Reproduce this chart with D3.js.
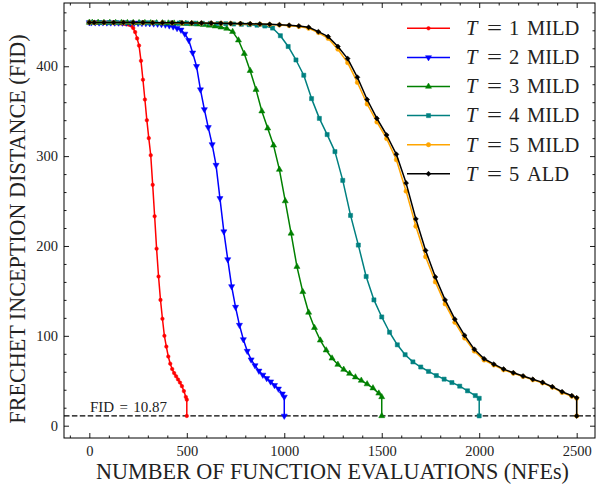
<!DOCTYPE html>
<html>
<head>
<meta charset="utf-8">
<script src="https://cdn.jsdelivr.net/npm/d3@7"></script>
<style>
  body { margin: 0; background: #fff; }
  svg { display: block; }
</style>
</head>
<body>
<div id="chart"></div>
<script>
// noise levels at which FID was measured (NFE = T * level)
var levels = [0, 5, 15, 25, 35, 45, 55, 65, 75, 85, 95, 105, 115, 125, 135, 145, 155, 165, 175, 185,
  195, 205, 215, 225, 235, 245, 255, 265, 275, 285, 295, 305, 315, 325, 335, 345, 355, 365, 375, 385,
  395, 405, 415, 425, 435, 445, 455, 465, 475, 485, 495, 500];

var fidT1 = [448.7, 448.6, 448.6, 448.5, 448.6, 448.5, 448.5, 448.4, 448.4, 448.3,
  448.3, 448.2, 448.2, 448.1, 448.0, 447.9, 447.8, 447.6, 447.4, 447.1,
  446.8, 446.2, 445.3, 442.5, 438, 431, 423, 406, 385, 363,
  340, 320, 301, 268, 233, 197, 166, 140, 119, 100,
  88, 77, 69, 63, 58.5, 55, 51.5, 48, 44, 38.5,
  32, 29];
var fidT2 = [448.7, 448.6, 448.6, 448.5, 448.6, 448.5, 448.5, 448.4, 448.4, 448.3,
  448.3, 448.2, 448.1, 448.0, 447.9, 447.8, 447.6, 447.4, 447.1, 446.7,
  446.1, 445.2, 444.0, 442.3, 440.5, 436, 429, 415, 400, 374,
  352, 332, 313, 290, 253, 216, 185, 155, 132, 112,
  96, 83, 73.5, 67, 61, 56.5, 52.7, 49, 45, 41,
  35.5, 32];
var fidT3 = [448.7, 448.6, 448.6, 448.5, 448.6, 448.5, 448.5, 448.4, 448.4, 448.3,
  448.3, 448.2, 448.1, 448.0, 447.9, 447.8, 447.6, 447.4, 447.1, 446.7,
  446.2, 445.5, 444.6, 443.4, 442, 438.5, 429, 414, 395, 374,
  350, 331, 312, 285, 250, 214, 177, 149, 126, 109,
  95, 84, 75, 68, 62.5, 58, 54, 50.3, 46.3, 41.8,
  36, 32];
var fidT4 = [448.7, 448.6, 448.6, 448.5, 448.6, 448.5, 448.5, 448.4, 448.4, 448.3,
  448.3, 448.2, 448.1, 448.0, 447.9, 447.8, 447.7, 447.5, 447.3, 447.0,
  446.7, 446.3, 445.7, 444.8, 442.5, 434, 422, 407, 390, 364,
  342, 324, 305, 273, 234, 201, 166, 140, 121, 104,
  90, 79, 71, 65.3, 60.4, 55.8, 51.8, 48, 44, 38.8,
  33.5, 30.5];
var fidT5mild = [448.7, 448.6, 448.7, 448.6, 448.6, 448.5, 448.5, 448.4, 448.4, 448.3,
  448.2, 448.1, 448.0, 447.9, 447.8, 447.6, 447.4, 447.1, 446.8, 446.4,
  445.9, 445.2, 444.2, 442.3, 437.5, 431, 419, 404, 382, 358,
  338, 319.5, 296, 261, 222, 188, 160, 135.5, 115, 97.5,
  83, 73, 67.5, 62.2, 58.3, 54.7, 51, 47.6, 42.8, 37,
  32.8, 30.5];
var fidT5ald = [448.8, 448.7, 448.8, 448.7, 448.7, 448.6, 448.6, 448.5, 448.5, 448.4,
  448.3, 448.2, 448.1, 448.0, 447.9, 447.7, 447.5, 447.3, 447.0, 446.7,
  446.3, 445.7, 444.9, 443.4, 438.5, 433, 422, 408.5, 387.7, 363,
  342, 323.5, 302, 270, 230, 195, 165.5, 140, 118.5, 100.5,
  85, 74.5, 68.5, 63, 59, 55.3, 51.6, 48.2, 43.4, 37.8,
  33.4, 31];

// final (denoised) sample FID
var fidFinal = 10.87;

var seriesT = [1, 2, 3, 4, 5, 5];
var seriesMethod = ["MILD", "MILD", "MILD", "MILD", "MILD", "ALD"];
var seriesFid = [fidT1, fidT2, fidT3, fidT4, fidT5mild, fidT5ald];
var seriesColors = ["#ff0000", "#0000ff", "#008000", "#008080", "#ffa500", "#000000"];
var seriesMarkers = ["point", "triDown", "triUp", "square", "circle", "diamond"];

var xMajor = [0, 500, 1000, 1500, 2000, 2500];
var yMajor = [0, 100, 200, 300, 400];

var fontFamily = '"Liberation Serif", "DejaVu Serif", serif';

var W = 599, H = 484;
var plot = {left: 64, right: 595, top: 3, bottom: 438};

var svg = d3.select("#chart").append("svg")
    .attr("width", W)
    .attr("height", H)
    .attr("font-family", fontFamily);

var x = d3.scaleLinear()
    .domain([-130, 2594])
    .range([plot.left, plot.right]);

var y = d3.scaleLinear()
    .domain([-13.7, 470.4])
    .range([plot.bottom, plot.top]);

// minor tick values
var xMinor = d3.range(-100, 2600, 100).filter(function(v) { return v % 500 !== 0; });
var yMinor = d3.range(0, 470, 20).filter(function(v) { return v % 100 !== 0; });

function styleAxis(g) {
    g.select(".domain").remove();
    g.selectAll("line").attr("stroke", "#000").attr("stroke-width", 0.9);
    g.attr("font-family", fontFamily).attr("font-size", 14.5);
    g.selectAll("text").attr("fill", "#222");
}

// bottom
svg.append("g")
    .attr("transform", "translate(0," + plot.bottom + ")")
    .call(d3.axisBottom(x).tickValues(xMajor).tickSize(-5).tickPadding(7.5).tickFormat(d3.format("d")))
    .call(styleAxis);
svg.append("g")
    .attr("transform", "translate(0," + plot.bottom + ")")
    .call(d3.axisBottom(x).tickValues(xMinor).tickSize(-2.5).tickFormat(""))
    .call(styleAxis);
// top
svg.append("g")
    .attr("transform", "translate(0," + plot.top + ")")
    .call(d3.axisTop(x).tickValues(xMajor).tickSize(-5).tickFormat(""))
    .call(styleAxis);
svg.append("g")
    .attr("transform", "translate(0," + plot.top + ")")
    .call(d3.axisTop(x).tickValues(xMinor).tickSize(-2.5).tickFormat(""))
    .call(styleAxis);
// left
svg.append("g")
    .attr("transform", "translate(" + plot.left + ",0)")
    .call(d3.axisLeft(y).tickValues(yMajor).tickSize(-5).tickPadding(6).tickFormat(d3.format("d")))
    .call(styleAxis);
svg.append("g")
    .attr("transform", "translate(" + plot.left + ",0)")
    .call(d3.axisLeft(y).tickValues(yMinor).tickSize(-2.5).tickFormat(""))
    .call(styleAxis);
// right
svg.append("g")
    .attr("transform", "translate(" + plot.right + ",0)")
    .call(d3.axisRight(y).tickValues(yMajor).tickSize(-5).tickFormat(""))
    .call(styleAxis);
svg.append("g")
    .attr("transform", "translate(" + plot.right + ",0)")
    .call(d3.axisRight(y).tickValues(yMinor).tickSize(-2.5).tickFormat(""))
    .call(styleAxis);

// marker shapes
var markerSymbols = {
    point:   d3.symbol().type(d3.symbolCircle).size(10),
    triDown: d3.symbol().type(d3.symbolTriangle).size(16),
    triUp:   d3.symbol().type(d3.symbolTriangle).size(16),
    square:  d3.symbol().type(d3.symbolSquare).size(17),
    circle:  d3.symbol().type(d3.symbolCircle).size(15),
    diamond: d3.symbol().type(d3.symbolDiamond2).size(16)
};

function addMarker(g, kind, cx, cy, color) {
    var rot = kind === "triDown" ? " rotate(180)" : "";
    g.append("path")
        .attr("d", markerSymbols[kind]())
        .attr("transform", "translate(" + cx + "," + cy + ")" + rot)
        .attr("fill", color)
        .attr("stroke", color)
        .attr("stroke-width", 0.5);
}

var line = d3.line()
    .x(function(d) { return x(d.nfe); })
    .y(function(d) { return y(d.fid); });

// reference line for final FID
svg.append("line")
    .attr("x1", plot.left).attr("x2", plot.right)
    .attr("y1", y(fidFinal)).attr("y2", y(fidFinal))
    .attr("stroke", "#000")
    .attr("stroke-width", 1.4)
    .attr("stroke-dasharray", "5.5,2.4");

svg.append("text")
    .attr("x", 90)
    .attr("y", 411.5)
    .attr("font-size", 15)
    .attr("word-spacing", 1.5)
    .attr("fill", "#222")
    .text("FID = " + fidFinal);

// curves
seriesFid.forEach(function(fids, i) {
    var T = seriesT[i];
    var pts = levels.map(function(lv, j) { return {nfe: T * lv, fid: fids[j]}; });
    pts.push({nfe: T * levels[levels.length - 1], fid: fidFinal});

    var g = svg.append("g");
    g.append("path")
        .datum(pts)
        .attr("fill", "none")
        .attr("stroke", seriesColors[i])
        .attr("stroke-width", 1.5)
        .attr("stroke-linejoin", "round")
        .attr("d", line);

    pts.forEach(function(p) {
        addMarker(g, seriesMarkers[i], x(p.nfe), y(p.fid), seriesColors[i]);
    });
});

// legend
var legend = svg.append("g");
seriesT.forEach(function(T, i) {
    var cy = 28.3 + i * 29.1;
    legend.append("line")
        .attr("x1", 407).attr("x2", 450)
        .attr("y1", cy).attr("y2", cy)
        .attr("stroke", seriesColors[i])
        .attr("stroke-width", 1.5);
    addMarker(legend, seriesMarkers[i], 428.5, cy, seriesColors[i]);
    var t = legend.append("text")
        .attr("y", cy + 6.8)
        .attr("font-size", 20.5)
        .attr("fill", "#222");
    t.append("tspan").attr("x", 466).attr("font-style", "italic").text("T");
    t.append("tspan").attr("x", 487).attr("textLength", 15).attr("lengthAdjust", "spacingAndGlyphs").text("=");
    t.append("tspan").attr("x", 509).text(T);
    t.append("tspan").attr("x", 527).text(seriesMethod[i]);
});

// axis titles, sized to match the reference widths
var xTitle = svg.append("text")
    .attr("x", 332.5)
    .attr("y", 479)
    .attr("text-anchor", "middle")
    .attr("font-size", 20)
    .attr("fill", "#222")
    .text("NUMBER OF FUNCTION EVALUATIONS (NFEs)");
var xw = xTitle.node().getComputedTextLength();
var fs = 20 * 473 / xw;
xTitle.attr("font-size", fs);

svg.append("text")
    .attr("transform", "translate(25,229) rotate(-90)")
    .attr("text-anchor", "middle")
    .attr("font-size", fs)
    .attr("fill", "#222")
    .text("FRECHET INCEPTION DISTANCE (FID)");

// frame
svg.append("rect")
    .attr("x", plot.left).attr("y", plot.top)
    .attr("width", plot.right - plot.left)
    .attr("height", plot.bottom - plot.top)
    .attr("fill", "none")
    .attr("stroke", "#000")
    .attr("stroke-width", 1);
</script>
</body>
</html>
